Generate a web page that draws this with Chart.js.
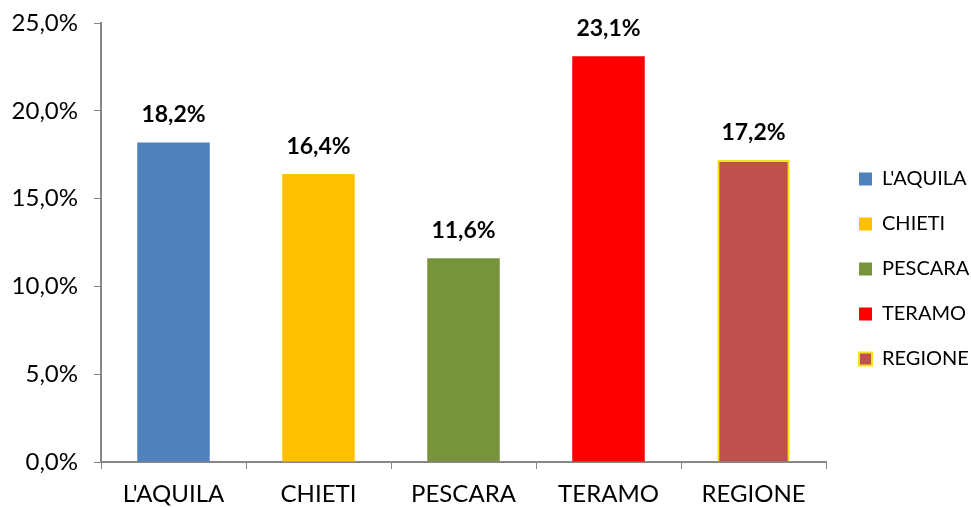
<!DOCTYPE html>
<html lang="it">
<head>
    <meta charset="UTF-8">
    <title>Province Abruzzo</title>
    <script src="https://cdn.jsdelivr.net/npm/chart.js"></script>
    <style>
        body { margin: 0; background: white; }
        #wrap { width: 971px; height: 507px; }
    </style>
</head>
<body>
    <div id="wrap"><canvas id="chart"></canvas></div>
    <script>
        // Data
        const categories = ["L'AQUILA", "CHIETI", "PESCARA", "TERAMO", "REGIONE"];
        const values = [18.2, 16.4, 11.6, 23.1, 17.2];
        const barColors = ['#4F81BD', '#FFC000', '#77933C', '#FF0000', '#C0504D'];
        const barBorders = ['#4F81BD', '#FFC000', '#77933C', '#FF0000', '#F5E31A'];

        const fmt = v => v.toFixed(1).replace('.', ',') + '%';
        const axisGray = '#868686';
        const fontFamily = 'Lato';

        // value labels above bars
        const valueLabels = {
            id: 'valueLabels',
            afterDatasetsDraw(chart) {
                const ctx = chart.ctx;
                const meta = chart.getDatasetMeta(0);
                ctx.save();
                ctx.font = 'bold 23px ' + fontFamily;
                ctx.fillStyle = '#000';
                ctx.textAlign = 'center';
                ctx.textBaseline = 'alphabetic';
                meta.data.forEach((bar, i) => {
                    ctx.fillText(fmt(values[i]), bar.x, bar.y - 20);
                });
                ctx.restore();
            }
        };

        // nudge the legend a little right/down, like the original
        const legendNudge = {
            id: 'legendNudge',
            afterLayout(chart) {
                const lg = chart.legend;
                lg.left += 8; lg.right += 8;
                lg.top += 15; lg.bottom += 15;
            }
        };

        new Chart(document.getElementById('chart'), {
            type: 'bar',
            data: {
                labels: categories,
                datasets: [{
                    data: values,
                    backgroundColor: barColors,
                    borderColor: barBorders,
                    borderWidth: [0, 0, 0, 0, 2],
                    categoryPercentage: 1,
                    barPercentage: 0.5
                }]
            },
            options: {
                responsive: true,
                maintainAspectRatio: false,
                animation: false,
                layout: { padding: { left: 8, top: 1, right: 0, bottom: 0 } },
                plugins: {
                    tooltip: { enabled: false },
                    legend: {
                        position: 'right',
                        maxWidth: 145,
                        labels: {
                            boxWidth: 13,
                            boxHeight: 13,
                            padding: 25,
                            color: '#000',
                            font: { family: fontFamily, size: 20 },
                            generateLabels: () => categories.map((c, i) => ({
                                text: c,
                                fillStyle: barColors[i],
                                strokeStyle: barBorders[i],
                                lineWidth: i === 4 ? 2 : 0,
                                index: i
                            }))
                        }
                    }
                },
                scales: {
                    x: {
                        afterFit(scale) { scale.height = 45; },
                        grid: { display: true, drawOnChartArea: false, tickLength: 7, color: axisGray },
                        border: { color: axisGray, width: 2 },
                        ticks: { color: '#000', padding: 11, font: { family: fontFamily, size: 24 } }
                    },
                    y: {
                        min: 0,
                        max: 25,
                        afterFit(scale) { scale.width = 93; scale.paddingTop = 23; },
                        grid: { display: true, drawOnChartArea: false, tickLength: 7, color: axisGray },
                        border: { color: axisGray, width: 2 },
                        ticks: {
                            stepSize: 5,
                            color: '#000',
                            padding: 16,
                            font: { family: fontFamily, size: 24 },
                            callback: v => fmt(v)
                        }
                    }
                }
            },
            plugins: [valueLabels, legendNudge]
        });
    </script>
</body>
</html>
